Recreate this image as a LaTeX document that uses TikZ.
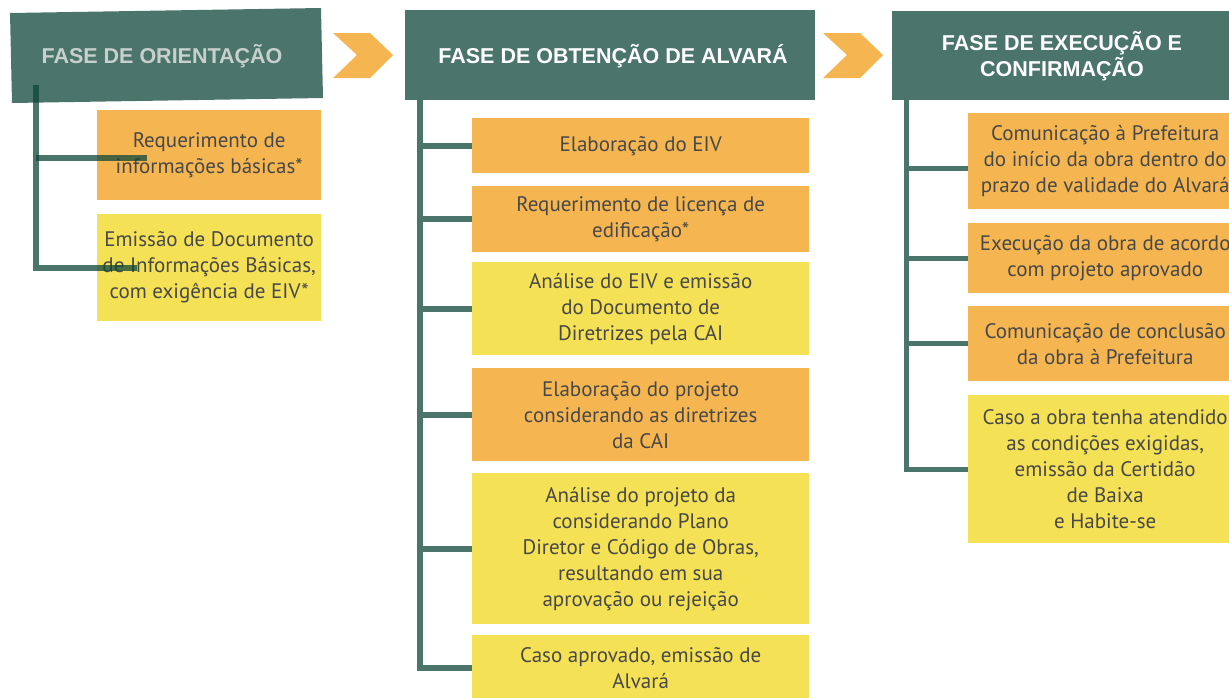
\documentclass[tikz,border=0pt]{standalone}
\usepackage{fontspec}
\setmainfont{PT Sans}
\newfontfamily\headfont{Liberation Sans}
\definecolor{teal}{RGB}{75,116,107}
\definecolor{boxorange}{RGB}{245,182,81}
\definecolor{boxyellow}{RGB}{245,225,86}
\definecolor{txtgray}{RGB}{72,72,72}
\definecolor{headgray}{RGB}{200,208,204}
\definecolor{linedark}{RGB}{15,70,58}
\begin{document}
\begin{tikzpicture}[x=1pt,y=-1pt,
  box/.style={anchor=north west, inner sep=0pt, align=center, text=txtgray,
    font=\fontsize{21}{26}\selectfont},
  orangebox/.style={box, fill=boxorange},
  yellowbox/.style={box, fill=boxyellow},
  headbox/.style={anchor=north west, inner sep=0pt, fill=teal},
  headtext/.style={inner sep=0pt, align=center, text=white,
    font=\headfont\bfseries\fontsize{21.5}{26}\selectfont},
  chevron/.style={fill=boxorange},
  trunk/.style={draw=teal, line width=6pt, line join=miter},
  trunkthin/.style={draw=teal, line width=5pt, line join=miter},
  trunkfaded/.style={draw=linedark, draw opacity=0.75, line width=6pt, line join=miter},
]
\useasboundingbox (0,0) rectangle (1229,697);
\clip (0,0) rectangle (1229,697);

% ---------- headers ----------
\fill[teal] (10,13) -- (321,8) -- (323,98) -- (12,103) -- cycle;
\node[headtext, text=headgray, anchor=base] (h1) at (162,63) {FASE DE ORIENTAÇÃO};

\node[headbox, minimum width=410pt, minimum height=90pt] (h2box) at (405,10) {};
\node[headtext, anchor=base] (h2) at (613,63) {FASE DE OBTENÇÃO DE ALVARÁ};

\node[headbox, minimum width=350pt, minimum height=89pt] (h3box) at (892,11) {};
\node[headtext] (h3) at (1062,56) {FASE DE EXECUÇÃO E\\CONFIRMAÇÃO};

% ---------- chevrons ----------
\fill[chevron] (333,33) -- (370,33) -- (393,55) -- (370,78) -- (333,78) -- (357,55) -- cycle;
\fill[chevron] (823,33) -- (860,33) -- (883,55) -- (860,78) -- (823,78) -- (847,55) -- cycle;

% ---------- column 1 ----------
\node[orangebox, minimum width=224pt, minimum height=90pt] (c1a) at (97,110)
  {Requerimento de\\informações básicas*};
\node[yellowbox, minimum width=224pt, minimum height=107pt] (c1b) at (97,214)
  {Emissão de Documento\\de Informações Básicas,\\com exigência de EIV*};

\coordinate (t1) at (36,85);
\coordinate (b1a) at (147,158);
\coordinate (b1b) at (137,268);
\draw[trunkfaded] (t1) -- (t1 |- b1b) -- (b1b);
\draw[trunkfaded] (t1 |- b1a) -- (b1a);

% ---------- column 2 ----------
\node[orangebox, minimum width=337pt, minimum height=55pt] (c2a) at (472,118)
  {Elaboração do EIV};
\node[orangebox, minimum width=337pt, minimum height=66pt] (c2b) at (472,186)
  {Requerimento de licença de\\edificação*};
\node[yellowbox, minimum width=337pt, minimum height=93pt] (c2c) at (472,262)
  {Análise do EIV e emissão\\do Documento de\\Diretrizes pela CAI};
\node[orangebox, minimum width=337pt, minimum height=93pt] (c2d) at (472,368)
  {Elaboração do projeto\\considerando as diretrizes\\da CAI};
\node[yellowbox, minimum width=337pt, minimum height=151pt] (c2e) at (472,473)
  {Análise do projeto da\\considerando Plano\\Diretor e Código de Obras,\\resultando em sua\\aprovação ou rejeição};
\node[yellowbox, minimum width=337pt, minimum height=66pt] (c2f) at (472,635)
  {Caso aprovado, emissão de\\Alvará};

\coordinate (t2) at (420,100);
\draw[trunk] (t2) |- (c2f.west);
\foreach \n in {c2a,c2b,c2c,c2d,c2e}
  \draw[trunk] (t2 |- \n.west) -- (\n.west);

% ---------- column 3 ----------
\node[orangebox, minimum width=274pt, minimum height=96pt] (c3a) at (968,113)
  {Comunicação à Prefeitura\\do início da obra dentro do\\prazo de validade do Alvará};
\node[orangebox, minimum width=274pt, minimum height=70pt] (c3b) at (968,223)
  {Execução da obra de acordo\\com projeto aprovado};
\node[orangebox, minimum width=274pt, minimum height=75pt] (c3c) at (968,306)
  {Comunicação de conclusão\\da obra à Prefeitura};
\node[yellowbox, minimum width=274pt, minimum height=148pt] (c3d) at (968,395)
  {Caso a obra tenha atendido\\as condições exigidas,\\emissão da Certidão\\de Baixa\\e Habite-se};

\coordinate (t3) at (906,100);
\coordinate (c3aw) at ([yshift=-7pt]c3a.west);
\draw[trunkthin] (t3) |- (c3d.west);
\draw[trunkthin] (t3 |- c3aw) -- (c3aw);
\foreach \n in {c3b,c3c}
  \draw[trunkthin] (t3 |- \n.west) -- (\n.west);
\end{tikzpicture}
\end{document}
